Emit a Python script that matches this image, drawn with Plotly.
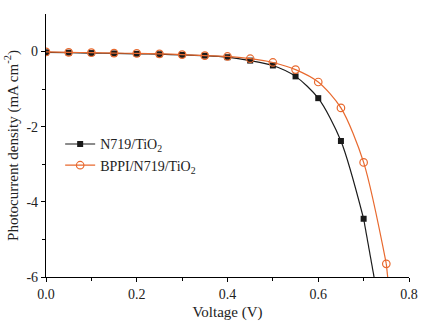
import plotly.graph_objects as go

voltage = [0.0, 0.05, 0.10, 0.15, 0.20, 0.25, 0.30, 0.35, 0.40, 0.45, 0.50, 0.55, 0.60, 0.65, 0.70, 0.75]
n719 = [-0.02, -0.03, -0.04, -0.05, -0.06, -0.07, -0.09, -0.11, -0.15, -0.24, -0.37, -0.66, -1.24, -2.38, -4.45]
bppi = [-0.01, -0.02, -0.03, -0.04, -0.05, -0.06, -0.08, -0.11, -0.13, -0.19, -0.29, -0.48, -0.81, -1.50, -2.95, -5.65]
# where each fitted curve leaves the bottom of the frame
n719_end = (0.723, -6.0)
bppi_end = (0.753, -6.0)

x_ticks = [0.0, 0.2, 0.4, 0.6, 0.8]
x_ticktext = ["0.0", "0.2", "0.4", "0.6", "0.8"]
y_ticks = [-6, -4, -2, 0]
y_ticktext = ["-6", "-4", "-2", "0"]

BLACK = "#1a1a1a"
ORANGE = "#E8692E"
FONT = "Liberation Serif"

fig = go.Figure()

# tail segments (no markers)
fig.add_trace(go.Scatter(x=[voltage[len(n719) - 1], n719_end[0]], y=[n719[-1], n719_end[1]],
                         mode="lines", line=dict(color=BLACK, width=1.2), showlegend=False,
                         hoverinfo="skip"))
fig.add_trace(go.Scatter(x=[voltage[len(bppi) - 1], bppi_end[0]], y=[bppi[-1], bppi_end[1]],
                         mode="lines", line=dict(color=ORANGE, width=1.2), showlegend=False,
                         hoverinfo="skip"))

fig.add_trace(go.Scatter(
    x=voltage[:len(n719)], y=n719, name="N719/TiO<sub>2</sub>",
    mode="lines+markers", line=dict(color=BLACK, width=1.2, shape="spline", smoothing=0.8),
    marker=dict(symbol="square", size=6, color=BLACK, line=dict(width=0)),
))
fig.add_trace(go.Scatter(
    x=voltage[:len(bppi)], y=bppi, name="BPPI/N719/TiO<sub>2</sub>",
    mode="lines+markers", line=dict(color=ORANGE, width=1.2, shape="spline", smoothing=0.8),
    marker=dict(symbol="circle-open", size=7.5, color=ORANGE, line=dict(width=1.2, color=ORANGE)),
))

axis_common = dict(
    showgrid=False, zeroline=False, showline=True, linecolor="black", linewidth=1.2,
    ticks="outside", ticklen=4, tickwidth=1, tickcolor="black", automargin=False,
    tickfont=dict(family=FONT, size=14, color="#222"),
)

fig.update_layout(
    width=431, height=329,
    margin=dict(l=46, r=22, t=14, b=52),
    paper_bgcolor="white", plot_bgcolor="white",
    font=dict(family=FONT, size=14, color="#222"),
    xaxis=dict(range=[0, 0.8], tickvals=x_ticks, ticktext=x_ticktext,
               minor=dict(tickvals=[0.1, 0.3, 0.5, 0.7], ticks="outside", ticklen=3, tickcolor="black"),
               title=dict(text="Voltage (V)", font=dict(family=FONT, size=15), standoff=5),
               **axis_common),
    yaxis=dict(range=[-6, 1], tickvals=y_ticks, ticktext=y_ticktext,
               minor=dict(tickvals=[-5, -3, -1], ticks="outside", ticklen=3, tickcolor="black"),
               title=dict(text="Photocurrent density (mA cm<sup>-2</sup>)", font=dict(family=FONT, size=15), standoff=4),
               **axis_common),
    legend=dict(x=0.039, y=0.565, xanchor="left", yanchor="top", bgcolor="rgba(0,0,0,0)",
                font=dict(family=FONT, size=14, color="#222"), itemwidth=30, tracegroupgap=0),
    showlegend=True,
)

fig.write_html("out.html", config={"displayModeBar": False},
               post_script="document.body.style.margin='0';document.body.style.overflow='hidden';")
